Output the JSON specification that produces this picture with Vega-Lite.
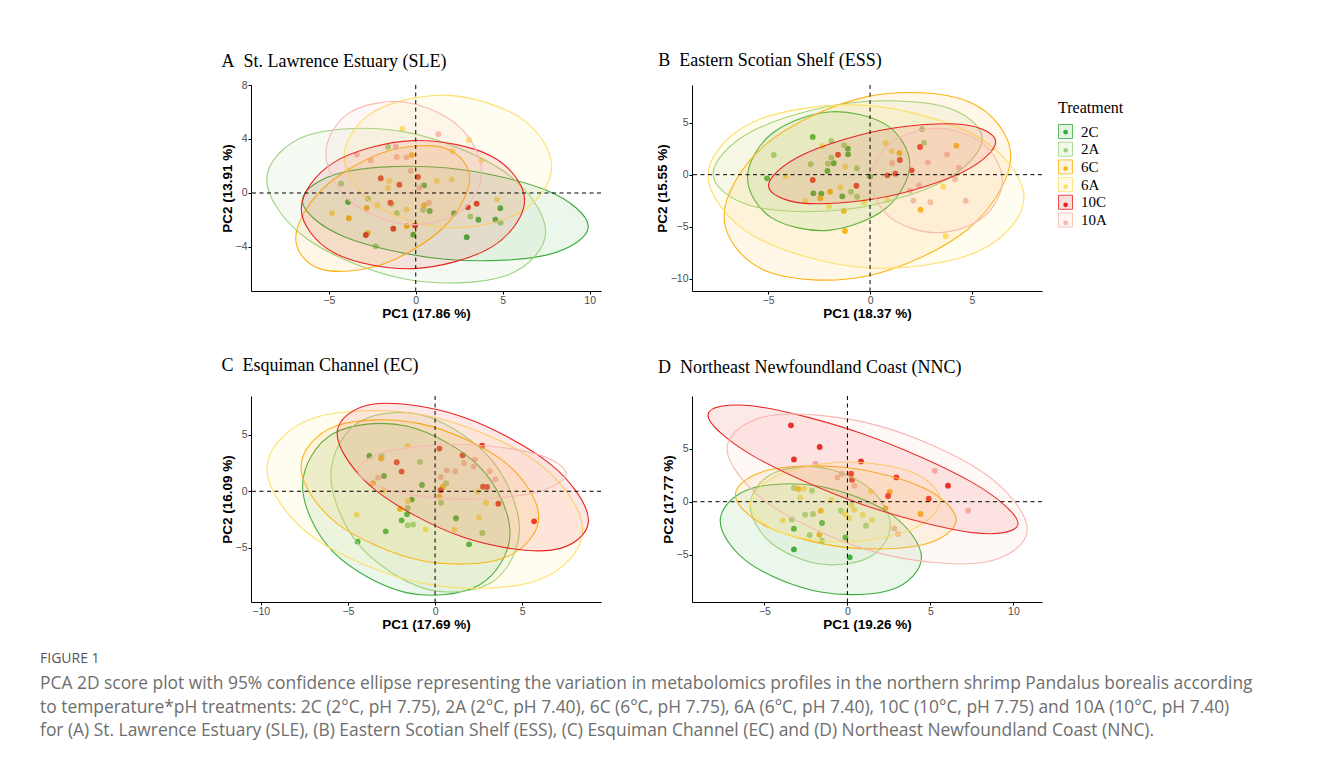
{
"$schema": "https://vega.github.io/schema/vega-lite/v6.json",
"background": "white",
"padding": {"left": 40, "top": 51, "right": 5, "bottom": 5},
"datasets": {
"pts": [
{"p":"A","t":"2C","x":-3.89,"y":-0.67},{"p":"A","t":"2C","x":0.48,"y":0.57},{"p":"A","t":"2C","x":0.8,"y":-1.33},{"p":"A","t":"2C","x":2.2,"y":-1.5},{"p":"A","t":"2C","x":4.86,"y":-1.13},{"p":"A","t":"2C","x":3.6,"y":-1.98},{"p":"A","t":"2C","x":4.58,"y":-1.98},{"p":"A","t":"2C","x":2.93,"y":-3.28},{"p":"A","t":"2C","x":-0.14,"y":-3.09},
{"p":"A","t":"2A","x":-1.59,"y":3.41},{"p":"A","t":"2A","x":-4.29,"y":0.69},{"p":"A","t":"2A","x":-2.74,"y":-0.42},{"p":"A","t":"2A","x":-1.38,"y":-0.8},{"p":"A","t":"2A","x":-1.09,"y":-1.5},{"p":"A","t":"2A","x":-2.3,"y":-3.95},{"p":"A","t":"2A","x":0.42,"y":-1.26},{"p":"A","t":"2A","x":3.14,"y":-1.75},{"p":"A","t":"2A","x":4.88,"y":-2.2},
{"p":"A","t":"6C","x":-0.23,"y":2.81},{"p":"A","t":"6C","x":-2.82,"y":-1.11},{"p":"A","t":"6C","x":-3.85,"y":-1.87},{"p":"A","t":"6C","x":0.48,"y":-0.91},{"p":"A","t":"6C","x":-2.76,"y":-2.97},{"p":"A","t":"6C","x":-0.52,"y":-2.44},
{"p":"A","t":"6A","x":-0.77,"y":4.76},{"p":"A","t":"6A","x":-1.52,"y":0.89},{"p":"A","t":"6A","x":-1.59,"y":0.37},{"p":"A","t":"6A","x":-2.21,"y":-0.91},{"p":"A","t":"6A","x":-4.81,"y":-1.5},{"p":"A","t":"6A","x":-0.52,"y":-1.24},{"p":"A","t":"6A","x":3.06,"y":3.93},{"p":"A","t":"6A","x":2.1,"y":3.09},{"p":"A","t":"6A","x":3.77,"y":2.42},{"p":"A","t":"6A","x":1.21,"y":0.89},{"p":"A","t":"6A","x":2.07,"y":1.01},{"p":"A","t":"6A","x":4.67,"y":-0.47},
{"p":"A","t":"10C","x":-2.01,"y":1.09},{"p":"A","t":"10C","x":-0.94,"y":0.62},{"p":"A","t":"10C","x":-1.46,"y":-0.72},{"p":"A","t":"10C","x":-1.29,"y":-2.64},{"p":"A","t":"10C","x":-2.87,"y":-3.11},{"p":"A","t":"10C","x":0.13,"y":1.19},{"p":"A","t":"10C","x":3.0,"y":-1.06},{"p":"A","t":"10C","x":3.5,"y":-0.79},{"p":"A","t":"10C","x":-0.04,"y":-2.4},
{"p":"A","t":"10A","x":-3.39,"y":2.86},{"p":"A","t":"10A","x":-1.15,"y":3.43},{"p":"A","t":"10A","x":-2.59,"y":2.42},{"p":"A","t":"10A","x":-1.09,"y":2.67},{"p":"A","t":"10A","x":-0.54,"y":2.64},{"p":"A","t":"10A","x":-0.29,"y":1.65},{"p":"A","t":"10A","x":1.3,"y":4.35},{"p":"A","t":"10A","x":0.21,"y":0.39},{"p":"A","t":"10A","x":0.76,"y":-0.72},
{"p":"B","t":"2C","x":-2.81,"y":3.63},{"p":"B","t":"2C","x":-1.09,"y":2.5},{"p":"B","t":"2C","x":-1.08,"y":1.96},{"p":"B","t":"2C","x":-1.78,"y":1.1},{"p":"B","t":"2C","x":-2.09,"y":0.36},{"p":"B","t":"2C","x":-5.05,"y":-0.35},{"p":"B","t":"2C","x":-2.78,"y":-1.79},{"p":"B","t":"2C","x":-2.39,"y":-1.83},{"p":"B","t":"2C","x":-1.36,"y":-2.08},{"p":"B","t":"2C","x":0.0,"y":-0.16},
{"p":"B","t":"2A","x":-1.9,"y":3.24},{"p":"B","t":"2A","x":-1.27,"y":2.82},{"p":"B","t":"2A","x":-1.9,"y":1.64},{"p":"B","t":"2A","x":-2.06,"y":1.06},{"p":"B","t":"2A","x":-2.91,"y":1.0},{"p":"B","t":"2A","x":-4.72,"y":1.89},{"p":"B","t":"2A","x":-0.65,"y":0.62},{"p":"B","t":"2A","x":-0.93,"y":-1.63},{"p":"B","t":"2A","x":2.55,"y":4.37},{"p":"B","t":"2A","x":2.65,"y":3.08},{"p":"B","t":"2A","x":-0.64,"y":-2.12},
{"p":"B","t":"6C","x":-1.96,"y":-1.63},{"p":"B","t":"6C","x":-2.44,"y":-2.27},{"p":"B","t":"6C","x":-1.29,"y":-3.49},{"p":"B","t":"6C","x":-1.23,"y":-5.41},{"p":"B","t":"6C","x":4.23,"y":2.79},{"p":"B","t":"6C","x":1.44,"y":2.09},{"p":"B","t":"6C","x":2.47,"y":-3.37},
{"p":"B","t":"6A","x":-2.34,"y":2.76},{"p":"B","t":"6A","x":-1.21,"y":0.77},{"p":"B","t":"6A","x":-4.13,"y":-0.13},{"p":"B","t":"6A","x":-1.46,"y":-1.21},{"p":"B","t":"6A","x":-3.17,"y":-2.53},{"p":"B","t":"6A","x":-2.01,"y":-3.04},{"p":"B","t":"6A","x":0.77,"y":3.02},{"p":"B","t":"6A","x":1.06,"y":2.25},{"p":"B","t":"6A","x":3.59,"y":-1.15},{"p":"B","t":"6A","x":3.71,"y":-5.92},{"p":"B","t":"6A","x":-0.29,"y":-2.65},{"p":"B","t":"6A","x":0.85,"y":-2.43},
{"p":"B","t":"10C","x":-1.57,"y":1.92},{"p":"B","t":"10C","x":-2.81,"y":-0.51},{"p":"B","t":"10C","x":-0.67,"y":-1.06},{"p":"B","t":"10C","x":2.45,"y":2.66},{"p":"B","t":"10C","x":1.46,"y":1.41},{"p":"B","t":"10C","x":0.85,"y":-0.06},{"p":"B","t":"10C","x":1.24,"y":0.1},{"p":"B","t":"10C","x":2.04,"y":0.42},
{"p":"B","t":"10A","x":1.09,"y":1.1},{"p":"B","t":"10A","x":3.77,"y":1.96},{"p":"B","t":"10A","x":2.83,"y":1.19},{"p":"B","t":"10A","x":4.36,"y":0.67},{"p":"B","t":"10A","x":4.17,"y":-0.44},{"p":"B","t":"10A","x":2.4,"y":-1.02},{"p":"B","t":"10A","x":1.96,"y":-1.54},{"p":"B","t":"10A","x":2.12,"y":-2.5},{"p":"B","t":"10A","x":2.96,"y":-2.65},{"p":"B","t":"10A","x":4.69,"y":-2.5},
{"p":"C","t":"2C","x":-3.77,"y":3.12},{"p":"C","t":"2C","x":-2.93,"y":1.35},{"p":"C","t":"2C","x":-0.75,"y":0.56},{"p":"C","t":"2C","x":-1.34,"y":-0.73},{"p":"C","t":"2C","x":-1.61,"y":-2.03},{"p":"C","t":"2C","x":-1.92,"y":-2.56},{"p":"C","t":"2C","x":-2.83,"y":-3.53},{"p":"C","t":"2C","x":-4.44,"y":-4.44},{"p":"C","t":"2C","x":1.2,"y":-2.38},{"p":"C","t":"2C","x":1.95,"y":-4.68},
{"p":"C","t":"2A","x":-3.06,"y":3.12},{"p":"C","t":"2A","x":-0.86,"y":2.59},{"p":"C","t":"2A","x":-1.57,"y":-1.47},{"p":"C","t":"2A","x":-1.57,"y":-3.0},{"p":"C","t":"2A","x":-1.26,"y":-2.94},{"p":"C","t":"2A","x":0.63,"y":0.71},{"p":"C","t":"2A","x":0.34,"y":-1.0},{"p":"C","t":"2A","x":2.71,"y":-3.68},
{"p":"C","t":"6C","x":-3.1,"y":2.89},{"p":"C","t":"6C","x":-3.56,"y":0.71},{"p":"C","t":"6C","x":-2.01,"y":-1.56},{"p":"C","t":"6C","x":0.44,"y":0.38},{"p":"C","t":"6C","x":0.25,"y":-0.47},
{"p":"C","t":"6A","x":-1.57,"y":4.0},{"p":"C","t":"6A","x":-2.97,"y":0.09},{"p":"C","t":"6A","x":-1.57,"y":-0.86},{"p":"C","t":"6A","x":-4.5,"y":-2.06},{"p":"C","t":"6A","x":2.43,"y":-0.03},{"p":"C","t":"6A","x":2.93,"y":-1.03},{"p":"C","t":"6A","x":2.52,"y":-2.32},{"p":"C","t":"6A","x":-0.54,"y":-3.35},{"p":"C","t":"6A","x":1.11,"y":-3.38},
{"p":"C","t":"10C","x":-2.2,"y":2.56},{"p":"C","t":"10C","x":-1.92,"y":1.74},{"p":"C","t":"10C","x":0.25,"y":3.77},{"p":"C","t":"10C","x":2.7,"y":4.03},{"p":"C","t":"10C","x":1.58,"y":3.18},{"p":"C","t":"10C","x":0.32,"y":0.09},{"p":"C","t":"10C","x":2.75,"y":0.41},{"p":"C","t":"10C","x":2.98,"y":0.38},{"p":"C","t":"10C","x":3.63,"y":-1.09},{"p":"C","t":"10C","x":5.68,"y":-2.65},
{"p":"C","t":"10A","x":-3.27,"y":1.21},{"p":"C","t":"10A","x":1.66,"y":2.5},{"p":"C","t":"10A","x":2.29,"y":2.8},{"p":"C","t":"10A","x":2.21,"y":2.18},{"p":"C","t":"10A","x":0.67,"y":1.85},{"p":"C","t":"10A","x":1.16,"y":1.77},{"p":"C","t":"10A","x":3.13,"y":1.77},{"p":"C","t":"10A","x":0.32,"y":1.26},{"p":"C","t":"10A","x":3.46,"y":1.06},
{"p":"D","t":"2C","x":-1.53,"y":-2.01},{"p":"D","t":"2C","x":-3.22,"y":-2.55},{"p":"D","t":"2C","x":-0.12,"y":-3.37},{"p":"D","t":"2C","x":-3.22,"y":-4.5},{"p":"D","t":"2C","x":0.14,"y":-5.25},
{"p":"D","t":"2A","x":-3.22,"y":1.29},{"p":"D","t":"2A","x":-2.13,"y":1.04},{"p":"D","t":"2A","x":-0.39,"y":-0.85},{"p":"D","t":"2A","x":-2.55,"y":-1.23},{"p":"D","t":"2A","x":-2.07,"y":-1.16},{"p":"D","t":"2A","x":-3.34,"y":-1.67},{"p":"D","t":"2A","x":-2.27,"y":-3.14},{"p":"D","t":"2A","x":-1.53,"y":-3.68},{"p":"D","t":"2A","x":1.12,"y":-2.26},
{"p":"D","t":"6C","x":-2.95,"y":1.2},{"p":"D","t":"6C","x":-1.61,"y":-0.85},{"p":"D","t":"6C","x":-1.69,"y":-3.11},{"p":"D","t":"6C","x":2.55,"y":0.92},{"p":"D","t":"6C","x":2.29,"y":-0.6},{"p":"D","t":"6C","x":4.4,"y":-1.16},
{"p":"D","t":"6A","x":-2.61,"y":1.23},{"p":"D","t":"6A","x":-2.83,"y":0.41},{"p":"D","t":"6A","x":-0.96,"y":0.16},{"p":"D","t":"6A","x":-0.16,"y":-1.16},{"p":"D","t":"6A","x":0.08,"y":-1.54},{"p":"D","t":"6A","x":-3.88,"y":-1.76},{"p":"D","t":"6A","x":0.24,"y":-0.35},{"p":"D","t":"6A","x":1.4,"y":0.97},{"p":"D","t":"6A","x":0.92,"y":-1.23},{"p":"D","t":"6A","x":1.48,"y":-1.73},{"p":"D","t":"6A","x":0.42,"y":-0.75},
{"p":"D","t":"10C","x":-3.4,"y":7.2},{"p":"D","t":"10C","x":-1.67,"y":5.16},{"p":"D","t":"10C","x":-3.22,"y":3.99},{"p":"D","t":"10C","x":0.22,"y":2.64},{"p":"D","t":"10C","x":0.28,"y":2.08},{"p":"D","t":"10C","x":0.82,"y":3.8},{"p":"D","t":"10C","x":2.95,"y":2.29},{"p":"D","t":"10C","x":6.06,"y":1.51},{"p":"D","t":"10C","x":2.45,"y":0.54},{"p":"D","t":"10C","x":4.9,"y":0.28},
{"p":"D","t":"10A","x":-1.93,"y":3.58},{"p":"D","t":"10A","x":-0.33,"y":2.64},{"p":"D","t":"10A","x":-0.6,"y":2.29},{"p":"D","t":"10A","x":5.26,"y":2.92},{"p":"D","t":"10A","x":0.42,"y":1.51},{"p":"D","t":"10A","x":7.27,"y":-0.85},{"p":"D","t":"10A","x":2.83,"y":-2.52},{"p":"D","t":"10A","x":3.05,"y":-3.05}
],
"ell": [
{"p":"A","t":"2C","i":0,"x":9.92,"y":-2.48},{"p":"A","t":"2C","i":1,"x":7.51,"y":0.2},{"p":"A","t":"2C","i":2,"x":1.7,"y":1.87},{"p":"A","t":"2C","i":3,"x":-4.11,"y":1.56},{"p":"A","t":"2C","i":4,"x":-6.52,"y":-0.56},{"p":"A","t":"2C","i":5,"x":-4.11,"y":-3.24},{"p":"A","t":"2C","i":6,"x":1.7,"y":-4.91},{"p":"A","t":"2C","i":7,"x":7.51,"y":-4.6},
{"p":"A","t":"2A","i":0,"x":7.47,"y":-2.86},{"p":"A","t":"2A","i":1,"x":5.12,"y":1.55},{"p":"A","t":"2A","i":2,"x":-0.55,"y":4.51},{"p":"A","t":"2A","i":3,"x":-6.22,"y":4.27},{"p":"A","t":"2A","i":4,"x":-8.57,"y":0.98},{"p":"A","t":"2A","i":5,"x":-6.22,"y":-3.43},{"p":"A","t":"2A","i":6,"x":-0.55,"y":-6.39},{"p":"A","t":"2A","i":7,"x":5.12,"y":-6.15},
{"p":"A","t":"6C","i":0,"x":3.1,"y":1.07},{"p":"A","t":"6C","i":1,"x":1.64,"y":3.34},{"p":"A","t":"6C","i":2,"x":-1.9,"y":2.98},{"p":"A","t":"6C","i":3,"x":-5.44,"y":0.2},{"p":"A","t":"6C","i":4,"x":-6.9,"y":-3.37},{"p":"A","t":"6C","i":5,"x":-5.44,"y":-5.64},{"p":"A","t":"6C","i":6,"x":-1.9,"y":-5.28},{"p":"A","t":"6C","i":7,"x":1.64,"y":-2.5},
{"p":"A","t":"6A","i":0,"x":7.82,"y":1.96},{"p":"A","t":"6A","i":1,"x":6.07,"y":5.53},{"p":"A","t":"6A","i":2,"x":1.85,"y":7.23},{"p":"A","t":"6A","i":3,"x":-2.37,"y":6.05},{"p":"A","t":"6A","i":4,"x":-4.12,"y":2.7},{"p":"A","t":"6A","i":5,"x":-2.37,"y":-0.87},{"p":"A","t":"6A","i":6,"x":1.85,"y":-2.57},{"p":"A","t":"6A","i":7,"x":6.07,"y":-1.39},
{"p":"A","t":"10C","i":0,"x":6.26,"y":-0.55},{"p":"A","t":"10C","i":1,"x":4.38,"y":2.71},{"p":"A","t":"10C","i":2,"x":-0.16,"y":3.88},{"p":"A","t":"10C","i":3,"x":-4.7,"y":2.27},{"p":"A","t":"10C","i":4,"x":-6.58,"y":-1.17},{"p":"A","t":"10C","i":5,"x":-4.7,"y":-4.43},{"p":"A","t":"10C","i":6,"x":-0.16,"y":-5.6},{"p":"A","t":"10C","i":7,"x":4.38,"y":-3.99},
{"p":"A","t":"10A","i":0,"x":3.79,"y":1.54},{"p":"A","t":"10A","i":1,"x":2.48,"y":4.94},{"p":"A","t":"10A","i":2,"x":-0.69,"y":6.74},{"p":"A","t":"10A","i":3,"x":-3.86,"y":5.9},{"p":"A","t":"10A","i":4,"x":-5.17,"y":2.9},{"p":"A","t":"10A","i":5,"x":-3.86,"y":-0.5},{"p":"A","t":"10A","i":6,"x":-0.69,"y":-2.3},{"p":"A","t":"10A","i":7,"x":2.48,"y":-1.46},
{"p":"B","t":"2C","i":0,"x":1.95,"y":0.98},{"p":"B","t":"2C","i":1,"x":0.78,"y":4.81},{"p":"B","t":"2C","i":2,"x":-2.03,"y":6.03},{"p":"B","t":"2C","i":3,"x":-4.84,"y":3.91},{"p":"B","t":"2C","i":4,"x":-6.01,"y":-0.3},{"p":"B","t":"2C","i":5,"x":-4.84,"y":-4.13},{"p":"B","t":"2C","i":6,"x":-2.03,"y":-5.35},{"p":"B","t":"2C","i":7,"x":0.78,"y":-3.23},
{"p":"B","t":"2A","i":0,"x":5.5,"y":3.45},{"p":"B","t":"2A","i":1,"x":3.57,"y":6.57},{"p":"B","t":"2A","i":2,"x":-1.1,"y":6.87},{"p":"B","t":"2A","i":3,"x":-5.77,"y":4.19},{"p":"B","t":"2A","i":4,"x":-7.7,"y":0.09},{"p":"B","t":"2A","i":5,"x":-5.77,"y":-3.03},{"p":"B","t":"2A","i":6,"x":-1.1,"y":-3.33},{"p":"B","t":"2A","i":7,"x":3.57,"y":-0.65},
{"p":"B","t":"6C","i":0,"x":6.9,"y":1.77},{"p":"B","t":"6C","i":1,"x":4.84,"y":7.01},{"p":"B","t":"6C","i":2,"x":-0.13,"y":7.5},{"p":"B","t":"6C","i":3,"x":-5.1,"y":2.93},{"p":"B","t":"6C","i":4,"x":-7.16,"y":-4.01},{"p":"B","t":"6C","i":5,"x":-5.1,"y":-9.25},{"p":"B","t":"6C","i":6,"x":-0.13,"y":-9.74},{"p":"B","t":"6C","i":7,"x":4.84,"y":-5.17},
{"p":"B","t":"6A","i":0,"x":7.55,"y":-2.19},{"p":"B","t":"6A","i":1,"x":5.28,"y":3.63},{"p":"B","t":"6A","i":2,"x":-0.2,"y":6.66},{"p":"B","t":"6A","i":3,"x":-5.68,"y":5.11},{"p":"B","t":"6A","i":4,"x":-7.95,"y":-0.09},{"p":"B","t":"6A","i":5,"x":-5.68,"y":-5.91},{"p":"B","t":"6A","i":6,"x":-0.2,"y":-8.94},{"p":"B","t":"6A","i":7,"x":5.28,"y":-7.39},
{"p":"B","t":"10C","i":0,"x":6.16,"y":3.14},{"p":"B","t":"10C","i":1,"x":4.53,"y":4.83},{"p":"B","t":"10C","i":2,"x":0.59,"y":4.3},{"p":"B","t":"10C","i":3,"x":-3.35,"y":1.87},{"p":"B","t":"10C","i":4,"x":-4.98,"y":-1.04},{"p":"B","t":"10C","i":5,"x":-3.35,"y":-2.73},{"p":"B","t":"10C","i":6,"x":0.59,"y":-2.2},{"p":"B","t":"10C","i":7,"x":4.53,"y":0.23},
{"p":"B","t":"10A","i":0,"x":6.49,"y":-0.56},{"p":"B","t":"10A","i":1,"x":5.54,"y":2.99},{"p":"B","t":"10A","i":2,"x":3.26,"y":4.46},{"p":"B","t":"10A","i":3,"x":0.98,"y":2.99},{"p":"B","t":"10A","i":4,"x":0.03,"y":-0.56},{"p":"B","t":"10A","i":5,"x":0.98,"y":-4.11},{"p":"B","t":"10A","i":6,"x":3.26,"y":-5.58},{"p":"B","t":"10A","i":7,"x":5.54,"y":-4.11},
{"p":"C","t":"2C","i":0,"x":4.3,"y":-3.65},{"p":"C","t":"2C","i":1,"x":2.56,"y":2.15},{"p":"C","t":"2C","i":2,"x":-1.65,"y":5.76},{"p":"C","t":"2C","i":3,"x":-5.86,"y":5.07},{"p":"C","t":"2C","i":4,"x":-7.6,"y":0.47},{"p":"C","t":"2C","i":5,"x":-5.86,"y":-5.33},{"p":"C","t":"2C","i":6,"x":-1.65,"y":-8.94},{"p":"C","t":"2C","i":7,"x":2.56,"y":-8.25},
{"p":"C","t":"2A","i":0,"x":4.84,"y":-3.33},{"p":"C","t":"2A","i":1,"x":3.25,"y":2.75},{"p":"C","t":"2A","i":2,"x":-0.57,"y":6.65},{"p":"C","t":"2A","i":3,"x":-4.39,"y":6.09},{"p":"C","t":"2A","i":4,"x":-5.98,"y":1.39},{"p":"C","t":"2A","i":5,"x":-4.39,"y":-4.69},{"p":"C","t":"2A","i":6,"x":-0.57,"y":-8.59},{"p":"C","t":"2A","i":7,"x":3.25,"y":-8.03},
{"p":"C","t":"6C","i":0,"x":5.95,"y":-2.26},{"p":"C","t":"6C","i":1,"x":3.95,"y":2.64},{"p":"C","t":"6C","i":2,"x":-0.87,"y":5.97},{"p":"C","t":"6C","i":3,"x":-5.69,"y":5.76},{"p":"C","t":"6C","i":4,"x":-7.69,"y":2.14},{"p":"C","t":"6C","i":5,"x":-5.69,"y":-2.76},{"p":"C","t":"6C","i":6,"x":-0.87,"y":-6.09},{"p":"C","t":"6C","i":7,"x":3.95,"y":-5.88},
{"p":"C","t":"6A","i":0,"x":8.47,"y":-3.44},{"p":"C","t":"6A","i":1,"x":5.82,"y":2.61},{"p":"C","t":"6A","i":2,"x":-0.59,"y":6.71},{"p":"C","t":"6A","i":3,"x":-7.0,"y":6.45},{"p":"C","t":"6A","i":4,"x":-9.65,"y":2.0},{"p":"C","t":"6A","i":5,"x":-7.0,"y":-4.05},{"p":"C","t":"6A","i":6,"x":-0.59,"y":-8.15},{"p":"C","t":"6A","i":7,"x":5.82,"y":-7.89},
{"p":"C","t":"10C","i":0,"x":8.8,"y":-2.56},{"p":"C","t":"10C","i":1,"x":6.69,"y":2.31},{"p":"C","t":"10C","i":2,"x":1.59,"y":6.56},{"p":"C","t":"10C","i":3,"x":-3.51,"y":7.71},{"p":"C","t":"10C","i":4,"x":-5.62,"y":5.08},{"p":"C","t":"10C","i":5,"x":-3.51,"y":0.21},{"p":"C","t":"10C","i":6,"x":1.59,"y":-4.04},{"p":"C","t":"10C","i":7,"x":6.69,"y":-5.19},
{"p":"C","t":"10A","i":0,"x":7.52,"y":1.56},{"p":"C","t":"10A","i":1,"x":5.77,"y":3.31},{"p":"C","t":"10A","i":2,"x":1.54,"y":4.13},{"p":"C","t":"10A","i":3,"x":-2.69,"y":3.53},{"p":"C","t":"10A","i":4,"x":-4.44,"y":1.86},{"p":"C","t":"10A","i":5,"x":-2.69,"y":0.11},{"p":"C","t":"10A","i":6,"x":1.54,"y":-0.71},{"p":"C","t":"10A","i":7,"x":5.77,"y":-0.11},
{"p":"D","t":"2C","i":0,"x":4.46,"y":-5.27},{"p":"D","t":"2C","i":1,"x":2.68,"y":-1.24},{"p":"D","t":"2C","i":2,"x":-1.6,"y":1.44},{"p":"D","t":"2C","i":3,"x":-5.88,"y":1.2},{"p":"D","t":"2C","i":4,"x":-7.66,"y":-1.81},{"p":"D","t":"2C","i":5,"x":-5.88,"y":-5.84},{"p":"D","t":"2C","i":6,"x":-1.6,"y":-8.52},{"p":"D","t":"2C","i":7,"x":2.68,"y":-8.28},
{"p":"D","t":"2A","i":0,"x":2.59,"y":-2.27},{"p":"D","t":"2A","i":1,"x":1.35,"y":1.23},{"p":"D","t":"2A","i":2,"x":-1.63,"y":3.24},{"p":"D","t":"2A","i":3,"x":-4.61,"y":2.57},{"p":"D","t":"2A","i":4,"x":-5.85,"y":-0.37},{"p":"D","t":"2A","i":5,"x":-4.61,"y":-3.87},{"p":"D","t":"2A","i":6,"x":-1.63,"y":-5.88},{"p":"D","t":"2A","i":7,"x":1.35,"y":-5.21},
{"p":"D","t":"6C","i":0,"x":6.55,"y":-1.72},{"p":"D","t":"6C","i":1,"x":4.6,"y":1.3},{"p":"D","t":"6C","i":2,"x":-0.1,"y":3.23},{"p":"D","t":"6C","i":3,"x":-4.8,"y":2.96},{"p":"D","t":"6C","i":4,"x":-6.75,"y":0.64},{"p":"D","t":"6C","i":5,"x":-4.8,"y":-2.38},{"p":"D","t":"6C","i":6,"x":-0.1,"y":-4.31},{"p":"D","t":"6C","i":7,"x":4.6,"y":-4.04},
{"p":"D","t":"6A","i":0,"x":5.6,"y":0.13},{"p":"D","t":"6A","i":1,"x":3.92,"y":2.75},{"p":"D","t":"6A","i":2,"x":-0.12,"y":3.74},{"p":"D","t":"6A","i":3,"x":-4.16,"y":2.53},{"p":"D","t":"6A","i":4,"x":-5.84,"y":-0.19},{"p":"D","t":"6A","i":5,"x":-4.16,"y":-2.81},{"p":"D","t":"6A","i":6,"x":-0.12,"y":-3.8},{"p":"D","t":"6A","i":7,"x":3.92,"y":-2.59},
{"p":"D","t":"10C","i":0,"x":10.28,"y":-2.06},{"p":"D","t":"10C","i":1,"x":7.54,"y":1.8},{"p":"D","t":"10C","i":2,"x":0.94,"y":6.39},{"p":"D","t":"10C","i":3,"x":-5.66,"y":9.02},{"p":"D","t":"10C","i":4,"x":-8.4,"y":8.16},{"p":"D","t":"10C","i":5,"x":-5.66,"y":4.3},{"p":"D","t":"10C","i":6,"x":0.94,"y":-0.29},{"p":"D","t":"10C","i":7,"x":7.54,"y":-2.92},
{"p":"D","t":"10A","i":0,"x":10.83,"y":-2.6},{"p":"D","t":"10A","i":1,"x":8.18,"y":2.75},{"p":"D","t":"10A","i":2,"x":1.79,"y":7.2},{"p":"D","t":"10A","i":3,"x":-4.6,"y":8.13},{"p":"D","t":"10A","i":4,"x":-7.25,"y":5.0},{"p":"D","t":"10A","i":5,"x":-4.6,"y":-0.35},{"p":"D","t":"10A","i":6,"x":1.79,"y":-4.8},{"p":"D","t":"10A","i":7,"x":8.18,"y":-5.73}
]
},
"title": {
"text": "FIGURE 1",
"subtitle": ["PCA 2D score plot with 95% confidence ellipse representing the variation in metabolomics profiles in the northern shrimp Pandalus borealis according", "to temperature*pH treatments: 2C (2°C, pH 7.75), 2A (2°C, pH 7.40), 6C (6°C, pH 7.75), 6A (6°C, pH 7.40), 10C (10°C, pH 7.75) and 10A (10°C, pH 7.40)", "for (A) St. Lawrence Estuary (SLE), (B) Eastern Scotian Shelf (ESS), (C) Esquiman Channel (EC) and (D) Northeast Newfoundland Coast (NNC)."],
"orient": "bottom", "anchor": "start", "frame": "bounds", "dx": -180, "offset": 21,
"font": "Open Sans", "fontSize": 14, "fontWeight": "normal", "color": "#555555",
"subtitleFont": "Open Sans", "subtitleFontSize": 17.4, "subtitleColor": "#6e6e6e", "subtitlePadding": 9, "subtitleLineHeight": 23.5
},
"columns": 2,
"spacing": {"row": 36, "column": 53},
"concat": [
{"width": 350, "height": 206,
 "title": {"text": "A\u2002St. Lawrence Estuary (SLE)", "offset": 9, "dx": 1.5},
 "layer": [
  {"data": {"name": "pts"}, "transform": [{"filter": "datum.p == 'A'"}],
   "mark": {"type": "point", "filled": true, "size": 34, "opacity": 1},
   "encoding": {
    "x": {"field": "x", "type": "quantitative", "scale": {"domain": [-9.47, 10.65], "nice": false, "zero": false}, "axis": {"values": [-5, 0, 5, 10], "title": "PC1 (17.86 %)"}},
    "y": {"field": "y", "type": "quantitative", "scale": {"domain": [-7.26, 8.0], "nice": false, "zero": false}, "axis": {"values": [-4, 0, 4, 8], "title": "PC2 (13.91 %)"}},
    "color": {"field": "t", "type": "nominal", "sort": ["2C","2A","6C","6A","10C","10A"], "scale": {"range": ["#38ac3a","#9bd27f","#fbb315","#fde06a","#e8221e","#f7b8b2"]}, "legend": {"title": null, "orient": "none", "legendX": 812.15, "legendY": 44.65, "symbolType": "circle", "symbolSize": 22, "symbolStrokeWidth": 0, "labelExpr": "''", "labelFontSize": 1, "rowPadding": 13.16, "zindex": 1}}
   }},
  {"data": {"name": "ell"}, "transform": [{"filter": "datum.p == 'A'"}],
   "mark": {"type": "line", "interpolate": "cardinal-closed", "strokeWidth": 1.1, "fillOpacity": 0.1},
   "encoding": {
    "x": {"field": "x", "type": "quantitative"},
    "y": {"field": "y", "type": "quantitative"},
    "stroke": {"field": "t", "type": "nominal", "scale": {"domain": ["2C","2A","6C","6A","10C","10A"], "range": ["#38ac3a","#9bd27f","#fbb315","#fde06a","#e8221e","#f7b8b2"]}, "legend": {"title": "Treatment", "orient": "none", "legendX": 807, "legendY": 15, "symbolType": "square", "symbolSize": 196, "symbolStrokeWidth": 1, "rowPadding": -1.3, "labelOffset": 8, "encode": {"symbols": {"update": {"fillOpacity": {"value": 0.14}, "strokeOpacity": {"value": 0.8}}}}}},
    "fill": {"field": "t", "type": "nominal", "scale": {"domain": ["2C","2A","6C","6A","10C","10A"], "range": ["#38ac3a","#9bd27f","#fbb315","#fde06a","#e8221e","#f7b8b2"]}, "legend": {"title": "Treatment", "orient": "none", "legendX": 807, "legendY": 15, "symbolType": "square", "symbolSize": 196, "symbolStrokeWidth": 1, "rowPadding": -1.3, "labelOffset": 8, "encode": {"symbols": {"update": {"fillOpacity": {"value": 0.14}, "strokeOpacity": {"value": 0.8}}}}}},
    "order": {"field": "i", "type": "quantitative"}
   }},
  {"data": {"values": [{}]}, "mark": {"type": "rule", "strokeDash": [4, 3.5], "color": "black", "strokeWidth": 1}, "encoding": {"x": {"datum": 0}}},
  {"data": {"values": [{}]}, "mark": {"type": "rule", "strokeDash": [4, 3.5], "color": "black", "strokeWidth": 1}, "encoding": {"y": {"datum": 0}}}
 ]},
{"width": 350, "height": 206,
 "title": {"text": "B\u2002Eastern Scotian Shelf (ESS)", "offset": 14.7, "dx": 3},
 "layer": [
  {"data": {"name": "pts"}, "transform": [{"filter": "datum.p == 'B'"}],
   "mark": {"type": "point", "filled": true, "size": 34, "opacity": 1},
   "encoding": {
    "x": {"field": "x", "type": "quantitative", "scale": {"domain": [-8.73, 8.43], "nice": false, "zero": false}, "axis": {"values": [-5, 0, 5], "title": "PC1 (18.37 %)"}},
    "y": {"field": "y", "type": "quantitative", "scale": {"domain": [-11.18, 8.62], "nice": false, "zero": false}, "axis": {"values": [-10, -5, 0, 5], "title": "PC2 (15.55 %)"}},
    "color": {"field": "t", "type": "nominal", "sort": ["2C","2A","6C","6A","10C","10A"], "legend": {"title": null, "orient": "none", "legendX": 812.15, "legendY": 44.65, "symbolType": "circle", "symbolSize": 22, "symbolStrokeWidth": 0, "labelExpr": "''", "labelFontSize": 1, "rowPadding": 13.16, "zindex": 1}}
   }},
  {"data": {"name": "ell"}, "transform": [{"filter": "datum.p == 'B'"}],
   "mark": {"type": "line", "interpolate": "cardinal-closed", "strokeWidth": 1.1, "fillOpacity": 0.1},
   "encoding": {
    "x": {"field": "x", "type": "quantitative"},
    "y": {"field": "y", "type": "quantitative"},
    "stroke": {"field": "t", "type": "nominal", "legend": {"title": "Treatment", "orient": "none", "legendX": 807, "legendY": 15, "symbolType": "square", "symbolSize": 196, "symbolStrokeWidth": 1, "rowPadding": -1.3, "labelOffset": 8, "encode": {"symbols": {"update": {"fillOpacity": {"value": 0.14}, "strokeOpacity": {"value": 0.8}}}}}},
    "fill": {"field": "t", "type": "nominal", "legend": {"title": "Treatment", "orient": "none", "legendX": 807, "legendY": 15, "symbolType": "square", "symbolSize": 196, "symbolStrokeWidth": 1, "rowPadding": -1.3, "labelOffset": 8, "encode": {"symbols": {"update": {"fillOpacity": {"value": 0.14}, "strokeOpacity": {"value": 0.8}}}}}},
    "order": {"field": "i", "type": "quantitative"}
   }},
  {"data": {"values": [{}]}, "mark": {"type": "rule", "strokeDash": [4, 3.5], "color": "black", "strokeWidth": 1}, "encoding": {"x": {"datum": 0}}},
  {"data": {"values": [{}]}, "mark": {"type": "rule", "strokeDash": [4, 3.5], "color": "black", "strokeWidth": 1}, "encoding": {"y": {"datum": 0}}}
 ]},
{"width": 350, "height": 206,
 "title": {"text": "C\u2002Esquiman Channel (EC)", "offset": 21, "dx": 1.5},
 "layer": [
  {"data": {"name": "pts"}, "transform": [{"filter": "datum.p == 'C'"}],
   "mark": {"type": "point", "filled": true, "size": 34, "opacity": 1},
   "encoding": {
    "x": {"field": "x", "type": "quantitative", "scale": {"domain": [-10.56, 9.52], "nice": false, "zero": false}, "axis": {"values": [-10, -5, 0, 5], "title": "PC1 (17.69 %)"}},
    "y": {"field": "y", "type": "quantitative", "scale": {"domain": [-9.77, 8.41], "nice": false, "zero": false}, "axis": {"values": [-5, 0, 5], "title": "PC2 (16.09 %)"}},
    "color": {"field": "t", "type": "nominal", "sort": ["2C","2A","6C","6A","10C","10A"], "legend": {"title": null, "orient": "none", "legendX": 812.15, "legendY": 44.65, "symbolType": "circle", "symbolSize": 22, "symbolStrokeWidth": 0, "labelExpr": "''", "labelFontSize": 1, "rowPadding": 13.16, "zindex": 1}}
   }},
  {"data": {"name": "ell"}, "transform": [{"filter": "datum.p == 'C'"}],
   "mark": {"type": "line", "interpolate": "cardinal-closed", "strokeWidth": 1.1, "fillOpacity": 0.1},
   "encoding": {
    "x": {"field": "x", "type": "quantitative"},
    "y": {"field": "y", "type": "quantitative"},
    "stroke": {"field": "t", "type": "nominal", "legend": {"title": "Treatment", "orient": "none", "legendX": 807, "legendY": 15, "symbolType": "square", "symbolSize": 196, "symbolStrokeWidth": 1, "rowPadding": -1.3, "labelOffset": 8, "encode": {"symbols": {"update": {"fillOpacity": {"value": 0.14}, "strokeOpacity": {"value": 0.8}}}}}},
    "fill": {"field": "t", "type": "nominal", "legend": {"title": "Treatment", "orient": "none", "legendX": 807, "legendY": 15, "symbolType": "square", "symbolSize": 196, "symbolStrokeWidth": 1, "rowPadding": -1.3, "labelOffset": 8, "encode": {"symbols": {"update": {"fillOpacity": {"value": 0.14}, "strokeOpacity": {"value": 0.8}}}}}},
    "order": {"field": "i", "type": "quantitative"}
   }},
  {"data": {"values": [{}]}, "mark": {"type": "rule", "strokeDash": [4, 3.5], "color": "black", "strokeWidth": 1}, "encoding": {"x": {"datum": 0}}},
  {"data": {"values": [{}]}, "mark": {"type": "rule", "strokeDash": [4, 3.5], "color": "black", "strokeWidth": 1}, "encoding": {"y": {"datum": 0}}}
 ]},
{"width": 350, "height": 206,
 "title": {"text": "D\u2002Northeast Newfoundland Coast (NNC)", "offset": 18.6, "dx": -3},
 "layer": [
  {"data": {"name": "pts"}, "transform": [{"filter": "datum.p == 'D'"}],
   "mark": {"type": "point", "filled": true, "size": 34, "opacity": 1},
   "encoding": {
    "x": {"field": "x", "type": "quantitative", "scale": {"domain": [-9.36, 11.72], "nice": false, "zero": false}, "axis": {"values": [-5, 0, 5, 10], "title": "PC1 (19.26 %)"}},
    "y": {"field": "y", "type": "quantitative", "scale": {"domain": [-9.46, 9.97], "nice": false, "zero": false}, "axis": {"values": [-5, 0, 5, 10], "title": "PC2 (17.77 %)"}},
    "color": {"field": "t", "type": "nominal", "sort": ["2C","2A","6C","6A","10C","10A"], "legend": {"title": null, "orient": "none", "legendX": 812.15, "legendY": 44.65, "symbolType": "circle", "symbolSize": 22, "symbolStrokeWidth": 0, "labelExpr": "''", "labelFontSize": 1, "rowPadding": 13.16, "zindex": 1}}
   }},
  {"data": {"name": "ell"}, "transform": [{"filter": "datum.p == 'D'"}],
   "mark": {"type": "line", "interpolate": "cardinal-closed", "strokeWidth": 1.1, "fillOpacity": 0.1},
   "encoding": {
    "x": {"field": "x", "type": "quantitative"},
    "y": {"field": "y", "type": "quantitative"},
    "stroke": {"field": "t", "type": "nominal", "legend": {"title": "Treatment", "orient": "none", "legendX": 807, "legendY": 15, "symbolType": "square", "symbolSize": 196, "symbolStrokeWidth": 1, "rowPadding": -1.3, "labelOffset": 8, "encode": {"symbols": {"update": {"fillOpacity": {"value": 0.14}, "strokeOpacity": {"value": 0.8}}}}}},
    "fill": {"field": "t", "type": "nominal", "legend": {"title": "Treatment", "orient": "none", "legendX": 807, "legendY": 15, "symbolType": "square", "symbolSize": 196, "symbolStrokeWidth": 1, "rowPadding": -1.3, "labelOffset": 8, "encode": {"symbols": {"update": {"fillOpacity": {"value": 0.14}, "strokeOpacity": {"value": 0.8}}}}}},
    "order": {"field": "i", "type": "quantitative"}
   }},
  {"data": {"values": [{}]}, "mark": {"type": "rule", "strokeDash": [4, 3.5], "color": "black", "strokeWidth": 1}, "encoding": {"x": {"datum": 0}}},
  {"data": {"values": [{}]}, "mark": {"type": "rule", "strokeDash": [4, 3.5], "color": "black", "strokeWidth": 1}, "encoding": {"y": {"datum": 0}}}
 ]}
],
"config": {
 "view": {"stroke": null},
 "title": {"anchor": "start", "frame": "bounds", "font": "Liberation Serif", "fontSize": 18, "fontWeight": "normal", "color": "black"},
 "axis": {"grid": false, "domainColor": "black", "domainWidth": 1, "tickColor": "black", "tickSize": 3, "labelColor": "#4d4d4d", "labelFont": "Liberation Sans", "labelFontSize": 10.5, "labelPadding": 1, "titleFont": "Liberation Sans", "titleFontSize": 13.5, "titleFontWeight": "bold", "titleColor": "black", "titlePadding": 1},
 "legend": {"titleFont": "Liberation Serif", "titleFontSize": 16, "titleFontWeight": "normal", "titleColor": "black", "labelFont": "Liberation Serif", "labelFontSize": 15, "labelColor": "black", "titlePadding": 8}
}
}
